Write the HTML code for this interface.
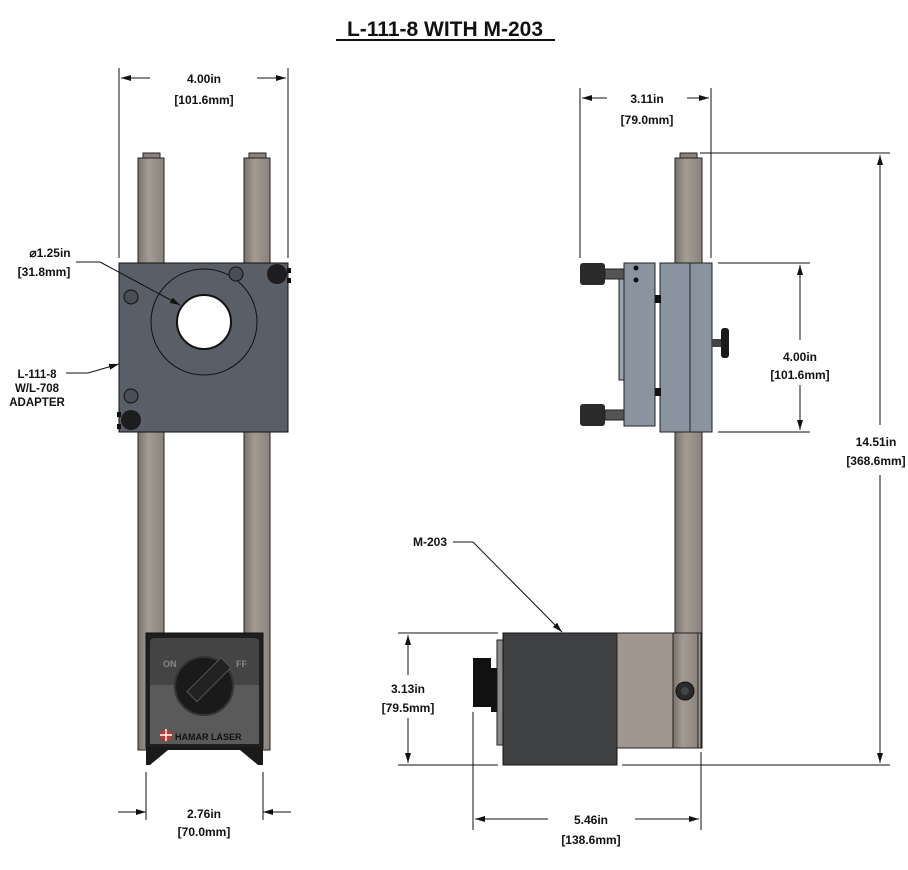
<!DOCTYPE html>
<html><head><meta charset="utf-8"><style>
html,body{margin:0;padding:0;background:#fff;}
svg{display:block}
text{font-family:"Liberation Sans",sans-serif;font-weight:bold;fill:#111}
</style></head><body>
<svg width="908" height="870" viewBox="0 0 908 870" xmlns="http://www.w3.org/2000/svg">
<defs>
<linearGradient id="rod" x1="0" x2="1"><stop offset="0" stop-color="#7a726b"/><stop offset="0.4" stop-color="#a39c94"/><stop offset="1" stop-color="#8a837c"/></linearGradient>
<marker id="ar" viewBox="0 0 10 6" refX="10" refY="3" markerWidth="10" markerHeight="6" orient="auto-start-reverse" markerUnits="userSpaceOnUse"><path d="M0,0L10,3L0,6z" fill="#111"/></marker>
</defs>
<text x="445" y="36" font-size="21" text-anchor="middle">L-111-8 WITH M-203</text>
<line x1="336" y1="40" x2="555" y2="40" stroke="#111" stroke-width="2"/>

<!-- LEFT VIEW -->
<g stroke="#111" stroke-width="1" fill="none">
<line x1="119" y1="68" x2="119" y2="258"/><line x1="288" y1="68" x2="288" y2="258"/>
<line x1="121" y1="78" x2="150" y2="78" marker-start="url(#ar)"/><line x1="257" y1="78" x2="286" y2="78" marker-end="url(#ar)"/>
</g>
<text x="204" y="83" font-size="12" text-anchor="middle">4.00in</text>
<text x="204" y="104" font-size="12" text-anchor="middle">[101.6mm]</text>
<rect x="143" y="153" width="17" height="6" fill="#8a837c" stroke="#222"/>
<rect x="249" y="153" width="17" height="6" fill="#8a837c" stroke="#222"/>
<rect x="138" y="158" width="26" height="592" fill="url(#rod)" stroke="#222"/>
<rect x="244" y="158" width="26" height="592" fill="url(#rod)" stroke="#222"/>
<rect x="119" y="263" width="169" height="169" fill="#5a5e66" stroke="#111"/>
<circle cx="204" cy="322" r="53" fill="none" stroke="#111"/>
<circle cx="204" cy="322" r="27" fill="#fff" stroke="#111" stroke-width="2"/>
<circle cx="131" cy="297" r="7" fill="#4a4d54" stroke="#111"/><circle cx="236" cy="274" r="7" fill="#4a4d54" stroke="#111"/><circle cx="131" cy="396" r="7" fill="#4a4d54" stroke="#111"/>
<circle cx="277" cy="274" r="10" fill="#1d1d1f"/><rect x="287" y="268" width="4" height="5" fill="#111"/><rect x="287" y="278" width="4" height="5" fill="#111"/>
<circle cx="131" cy="420" r="10" fill="#1d1d1f"/><rect x="117" y="412" width="4" height="5" fill="#111"/><rect x="117" y="424" width="4" height="5" fill="#111"/>
<g stroke="#111" stroke-width="1" fill="none">
<line x1="76" y1="262" x2="100" y2="262"/><line x1="100" y1="262" x2="180" y2="305" marker-end="url(#ar)"/>
<line x1="66" y1="373" x2="88" y2="373"/><line x1="88" y1="373" x2="119" y2="364" marker-end="url(#ar)"/>
</g>
<text x="50" y="257" font-size="12" text-anchor="middle">⌀1.25in</text>
<text x="44" y="276" font-size="12" text-anchor="middle">[31.8mm]</text>
<text x="37" y="378" font-size="11.5" text-anchor="middle">L-111-8</text>
<text x="37" y="392" font-size="11.5" text-anchor="middle">W/L-708</text>
<text x="37" y="406" font-size="11.5" text-anchor="middle">ADAPTER</text>
<rect x="146" y="633" width="117" height="115" fill="#1e1e1e" stroke="#111"/>
<rect x="150" y="638" width="109" height="106" rx="4" fill="#444"/>
<rect x="150" y="685" width="109" height="59" fill="#5a5a5a"/>
<text x="163" y="667" font-size="9" font-weight="normal" style="fill:#888">ON</text>
<text x="236" y="667" font-size="9" font-weight="normal" style="fill:#888">FF</text>
<circle cx="204" cy="686" r="29" fill="#1a1a1a" stroke="#333" stroke-width="2"/>
<rect x="196" y="654" width="14" height="48" fill="#222" stroke="#555" transform="rotate(45 204 686)"/>
<circle cx="166" cy="735" r="6" fill="#c0392b"/><path d="M160 735h12M166 729v12" stroke="#fff" stroke-width="1.5"/>
<text x="175" y="740" font-size="9" style="fill:#111">HAMAR LASER</text>
<path d="M146 748h117v17h-5l-18-15h-72l-18 15h-4z" fill="#1a1a1a"/>
<g stroke="#111" stroke-width="1" fill="none">
<line x1="146" y1="772" x2="146" y2="820"/><line x1="263" y1="772" x2="263" y2="820"/>
<line x1="118" y1="812" x2="146" y2="812" marker-end="url(#ar)"/><line x1="291" y1="812" x2="263" y2="812" marker-end="url(#ar)"/>
</g>
<text x="204" y="818" font-size="12" text-anchor="middle">2.76in</text>
<text x="204" y="836" font-size="12" text-anchor="middle">[70.0mm]</text>

<!-- RIGHT VIEW -->
<g stroke="#111" stroke-width="1" fill="none">
<line x1="580" y1="88" x2="580" y2="258"/><line x1="711" y1="88" x2="711" y2="258"/>
<line x1="582" y1="98" x2="607" y2="98" marker-start="url(#ar)"/><line x1="687" y1="98" x2="709" y2="98" marker-end="url(#ar)"/>
<line x1="700" y1="153" x2="890" y2="153"/><line x1="718" y1="263" x2="810" y2="263"/><line x1="718" y1="432" x2="810" y2="432"/>
<line x1="800" y1="265" x2="800" y2="340" marker-start="url(#ar)"/><line x1="800" y1="385" x2="800" y2="430" marker-end="url(#ar)"/>
<line x1="880" y1="155" x2="880" y2="425" marker-start="url(#ar)"/><line x1="880" y1="475" x2="880" y2="763" marker-end="url(#ar)"/>
<line x1="398" y1="633" x2="498" y2="633"/><line x1="398" y1="765" x2="498" y2="765"/><line x1="622" y1="765" x2="890" y2="765"/>
<line x1="408" y1="635" x2="408" y2="675" marker-start="url(#ar)"/><line x1="408" y1="718" x2="408" y2="763" marker-end="url(#ar)"/>
<line x1="473" y1="712" x2="473" y2="830"/><line x1="701" y1="752" x2="701" y2="830"/>
<line x1="475" y1="819" x2="548" y2="819" marker-start="url(#ar)"/><line x1="635" y1="819" x2="699" y2="819" marker-end="url(#ar)"/>
<line x1="453" y1="542" x2="473" y2="542"/><line x1="473" y1="542" x2="562" y2="632" marker-end="url(#ar)"/>
</g>
<text x="647" y="103" font-size="12" text-anchor="middle">3.11in</text>
<text x="647" y="124" font-size="12" text-anchor="middle">[79.0mm]</text>
<text x="800" y="361" font-size="12" text-anchor="middle">4.00in</text>
<text x="800" y="379" font-size="12" text-anchor="middle">[101.6mm]</text>
<text x="876" y="446" font-size="12" text-anchor="middle">14.51in</text>
<text x="876" y="465" font-size="12" text-anchor="middle">[368.6mm]</text>
<text x="408" y="693" font-size="12" text-anchor="middle">3.13in</text>
<text x="408" y="712" font-size="12" text-anchor="middle">[79.5mm]</text>
<text x="591" y="824" font-size="12" text-anchor="middle">5.46in</text>
<text x="591" y="844" font-size="12" text-anchor="middle">[138.6mm]</text>
<text x="430" y="546" font-size="12" text-anchor="middle">M-203</text>
<rect x="680" y="153" width="17" height="6" fill="#8a837c" stroke="#222"/>
<rect x="675" y="158" width="27" height="590" fill="url(#rod)" stroke="#222"/>
<rect x="619" y="272" width="5" height="108" fill="#9aa3b0" stroke="#222"/>
<rect x="624" y="263" width="31" height="163" fill="#8a93a0" stroke="#222"/>
<rect x="660" y="263" width="52" height="169" fill="#8a93a0" stroke="#222"/>
<line x1="690" y1="263" x2="690" y2="432" stroke="#222"/>
<rect x="655" y="295" width="6" height="8" fill="#111"/><rect x="655" y="388" width="6" height="8" fill="#111"/>
<circle cx="636" cy="268" r="2.5" fill="#111"/><circle cx="636" cy="280" r="2.5" fill="#111"/>
<rect x="580" y="263" width="25" height="22" rx="3" fill="#2a2a2a"/><rect x="605" y="269" width="19" height="10" fill="#555" stroke="#222"/>
<rect x="580" y="404" width="25" height="22" rx="3" fill="#2a2a2a"/><rect x="605" y="410" width="19" height="10" fill="#555" stroke="#222"/>
<rect x="712" y="339" width="10" height="8" fill="#444"/><rect x="721" y="328" width="8" height="30" rx="3" fill="#1a1a1a"/>
<rect x="497" y="640" width="8" height="105" fill="#8a8a8a" stroke="#222"/>
<path d="M473 658h18v10h6v44h-6v-5h-18z" fill="#111"/>
<rect x="503" y="633" width="114" height="132" fill="#3f4042" stroke="#111"/>
<rect x="617" y="633" width="84" height="115" fill="#a09890" stroke="#222"/>
<rect x="673" y="633" width="25" height="115" fill="url(#rod)" stroke="#222"/>
<circle cx="685" cy="691" r="9" fill="#2a2a2a" stroke="#111"/><circle cx="685" cy="691" r="4" fill="#444"/>
</svg>
</body></html>
